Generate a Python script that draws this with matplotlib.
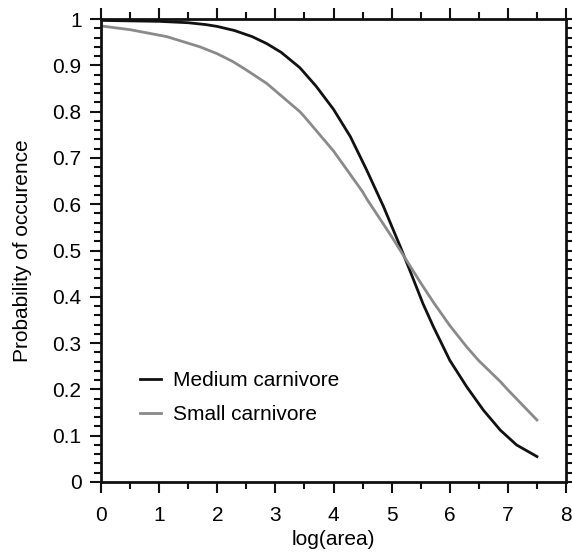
import matplotlib
matplotlib.use("Agg")
import matplotlib.pyplot as plt
from matplotlib.ticker import MultipleLocator

# data
medium_x = [0, 0.5, 1.0, 1.5, 1.8, 2.0, 2.3, 2.6, 2.85, 3.1, 3.42, 3.7, 4.0, 4.29,
            4.57, 4.86, 5.15, 5.32, 5.43, 5.54, 5.72, 6.0, 6.29, 6.58, 6.87, 7.15, 7.5]
medium_y = [0.997, 0.996, 0.995, 0.992, 0.988, 0.984, 0.975, 0.962, 0.947, 0.928,
            0.895, 0.855, 0.805, 0.746, 0.674, 0.595, 0.508, 0.455, 0.42, 0.385,
            0.335, 0.263, 0.206, 0.155, 0.112, 0.08, 0.055]

small_x = [0, 0.5, 1.13, 1.7, 2.0, 2.27, 2.5, 2.85, 3.0, 3.42, 3.5, 4.0, 4.5,
           4.57, 5.0, 5.15, 5.5, 5.72, 6.0, 6.29, 6.5, 6.87, 7.0, 7.5]
small_y = [0.985, 0.977, 0.962, 0.94, 0.925, 0.908, 0.89, 0.861, 0.845, 0.80,
           0.789, 0.715, 0.627, 0.612, 0.53, 0.50, 0.43, 0.388, 0.338, 0.292,
           0.262, 0.217, 0.199, 0.134]

plt.rcParams['font.family'] = ['Liberation Sans', 'DejaVu Sans']
plt.rcParams['font.size'] = 15

fig = plt.figure(figsize=(5.72, 5.53), dpi=100)
ax = fig.add_axes([0.1766, 0.1284, 0.8129, 0.8372])

ax.plot(medium_x, medium_y, color='#111111', lw=2.0, label='Medium carnivore')
ax.plot(small_x, small_y, color='#8a8a8a', lw=2.0, label='Small carnivore')

ax.set_xlim(0, 8)
ax.set_ylim(0, 1)
ax.xaxis.set_major_locator(MultipleLocator(1))
ax.xaxis.set_minor_locator(MultipleLocator(0.5))
ax.yaxis.set_minor_locator(MultipleLocator(0.02))
ax.set_yticks([i / 10 for i in range(11)])
ax.set_yticklabels(['0', '0.1', '0.2', '0.3', '0.4', '0.5', '0.6', '0.7', '0.8', '0.9', '1'])

ax.tick_params(which='both', direction='out', top=True, right=True,
               labeltop=False, labelright=False, width=1.5, color='#111111')
ax.tick_params(which='major', length=8, pad=6)
ax.tick_params(axis='x', which='major', pad=9)
ax.tick_params(which='minor', length=5)
for s in ax.spines.values():
    s.set_linewidth(2)
    s.set_color('#111111')

ax.set_xlabel('log(area)', labelpad=4)
ax.set_ylabel('Probability of occurence', labelpad=15)

ax.legend(loc='upper left', bbox_to_anchor=(0.084, 0.24), frameon=False,
          handlelength=1.0, handletextpad=0.6, borderpad=0, borderaxespad=0,
          labelspacing=0.72)

fig.savefig('out.png', dpi=100)
